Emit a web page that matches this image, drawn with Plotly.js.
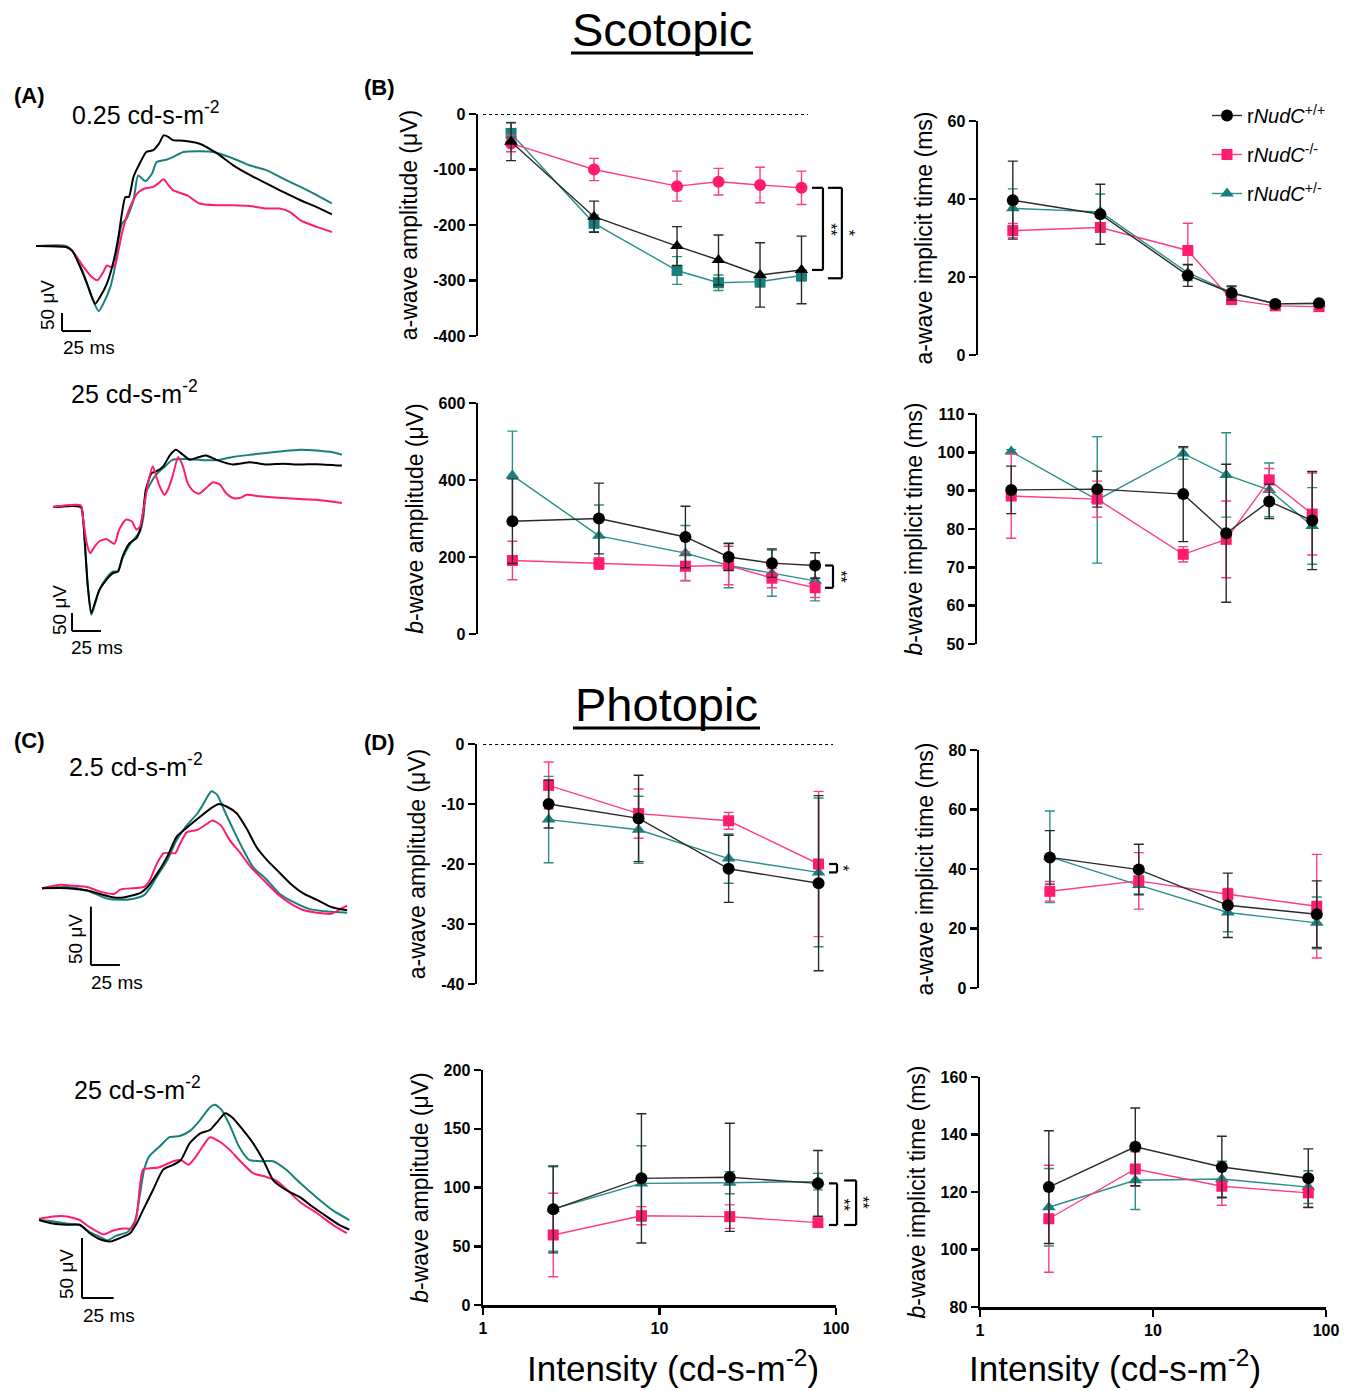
<!DOCTYPE html>
<html><head><meta charset="utf-8">
<script src="https://cdn.plot.ly/plotly-3.0.1.min.js"></script>
<style>html,body{margin:0;padding:0;background:#fff}</style>
</head><body><div id="chart" style="width:1354px;height:1391px"></div>
<script>
// ---------------- DATA ----------------
const scotIntensity = [0.025, 0.25, 2.5, 7.9, 25, 79];
const photIntensity = [2.5, 7.9, 25, 79];
const seriesNames = {wt:'r<i>NudC</i><sup>+/+</sup>', ko:'r<i>NudC</i><sup>-/-</sup>', het:'r<i>NudC</i><sup>+/-</sup>'};

// Scotopic a-wave amplitude (µV)
const scotAAmpWT = [-50, -185, -238, -263, -290, -281];
const scotAAmpWTErr = [34, 28, 35, 45, 58, 61];
const scotAAmpKO = [-53, -100, -130, -122, -128, -133];
const scotAAmpKOErr = [15, 20, 27, 24, 32, 30];
const scotAAmpHet = [-35, -197, -282, -304, -302, -291];
const scotAAmpHetErr = [20, 15, 25, 14, 10, 10];
// Scotopic a-wave implicit time (ms)
const scotATimeWT = [39.7, 36.1, 20.4, 15.9, 13.1, 13.3];
const scotATimeWTErr = [10, 7.7, 2.8, 1.8, 0.6, 0.5];
const scotATimeKO = [31.9, 32.7, 26.8, 14.2, 12.6, 12.4];
const scotATimeKOErr = [1.8, 1, 7, 1, 0.4, 0.4];
const scotATimeHet = [37.6, 36.7, 21.1, 16, 13.1, 13.1];
const scotATimeHetErr = [5, 4.6, 2, 1.5, 0.5, 0.5];
// Scotopic b-wave amplitude (µV)
const scotBAmpWT = [293, 300, 252, 200, 184, 178];
const scotBAmpWTErr = [110, 92, 80, 35, 37, 33];
const scotBAmpKO = [191, 183, 176, 178, 145, 120];
const scotBAmpKOErr = [50, 15, 37, 50, 25, 25];
const scotBAmpHet = [412, 255, 210, 178, 158, 138];
const scotBAmpHetErr = [115, 80, 72, 58, 60, 52];
// Scotopic b-wave implicit time (ms)
const scotBTimeWT = [90.2, 90.4, 89.1, 78.9, 87.2, 82.2];
const scotBTimeWTErr = [6.2, 4.7, 12.4, 18, 4.5, 12.8];
const scotBTimeKO = [88.6, 87.8, 73.4, 77.3, 92.8, 83.9];
const scotBTimeKOErr = [11, 4.7, 2, 10, 3, 10.7];
const scotBTimeHet = [100.2, 87.6, 99.7, 94.1, 90.2, 80.8];
const scotBTimeHetErr = [0.5, 16.5, 1.5, 11, 7, 10];
// Photopic a-wave amplitude (µV)
const photAAmpWT = [-10, -12.4, -20.8, -23.2];
const photAAmpWTErr = [4, 7.2, 5.6, 14.6];
const photAAmpKO = [-6.9, -11.6, -12.8, -20];
const photAAmpKOErr = [3.9, 4.1, 1.4, 12.1];
const photAAmpHet = [-12.6, -14.3, -19.1, -21.4];
const photAAmpHetErr = [7.2, 5.6, 4.1, 12.4];
// Photopic a-wave implicit time (ms)
const photATimeWT = [43.9, 39.8, 27.8, 24.8];
const photATimeWTErr = [9, 8.5, 10.8, 11.2];
const photATimeKO = [32.5, 36, 31.5, 27.5];
const photATimeKOErr = [3.3, 9.5, 2, 17.4];
const photATimeHet = [44.1, 34.6, 25.4, 21.9];
const photATimeHetErr = [15.4, 3, 6.5, 8.7];
// Photopic b-wave amplitude (µV)
const photBAmpWT = [81.4, 107.8, 108.7, 103.5];
const photBAmpWTErr = [37, 55, 46, 28];
const photBAmpKO = [59.6, 76, 75.2, 70.1];
const photBAmpKOErr = [35.5, 7.7, 10, 3];
const photBAmpHet = [81.7, 103.5, 104.1, 105];
const photBAmpHetErr = [36, 32, 9.4, 7];
// Photopic b-wave implicit time (ms)
const photBTimeWT = [121.7, 135.7, 128.7, 124.8];
const photBTimeWTErr = [19.6, 13.5, 10.7, 10.2];
const photBTimeKO = [110.7, 128, 122, 119.7];
const photBTimeKOErr = [18.6, 6, 6.6, 5];
const photBTimeHet = [114.7, 124.1, 124.5, 121.7];
const photBTimeHetErr = [13.5, 10.2, 6.2, 5.7];

// Tick labels
const ticksScotAAmp = [0, -100, -200, -300, -400];
const ticksScotATime = [0, 20, 40, 60];
const ticksScotBAmp = [0, 200, 400, 600];
const ticksScotBTime = [50, 60, 70, 80, 90, 100, 110];
const ticksPhotAAmp = [0, -10, -20, -30, -40];
const ticksPhotATime = [0, 20, 40, 60, 80];
const ticksPhotBAmp = [0, 50, 100, 150, 200];
const ticksPhotBTime = [80, 100, 120, 140, 160];
const ticksIntensity = [1, 10, 100];

// Waveforms: time (ms) / voltage (µV)
// Scotopic 0.25 cd-s-m-2
const wfS1tWT = [0,26,31,38,44,51,55,61,67,71,74,77,80,84,90,95,101,106,110,114,118,127,141,156,170,185,199,213,228,242,255];
const wfS1vWT = [0,-3,-12,-58,-105,-160,-142,-105,-40,25,90,136,136,192,233,261,266,284,307,303,294,292,284,257,224,196,173,150,127,108,88];
const wfS1tKO = [0,26,32,41,48,53,58,61,64,68,71,74,77,81,87,93,101,105,110,114,118,130,141,156,170,184,199,210,219,228,242,255];
const wfS1vKO = [0,-3,-17,-58,-86,-95,-72,-54,-58,-54,-12,34,71,108,145,159,164,173,185,169,155,141,118,113,113,111,104,104,94,71,53,39];
const wfS1tHet = [0,26,32,41,48,54,58,64,68,71,74,78,84,88,93,95,100,104,113,118,127,141,153,170,184,199,213,228,242,255];
const wfS1vHet = [0,0,-17,-77,-142,-181,-160,-114,-58,16,62,76,127,196,182,181,201,233,240,247,261,263,261,243,224,210,187,164,141,118];
// Scotopic 25 cd-s-m-2
const wfS2tWT = [0,24,26,28,30,33,36,40,46,52,56,60,66,72,75,78,80,85,89,95,101,106,112,118,126,132,141,155,170,184,198,213,227,249];
const wfS2vWT = [0,0,-35,-127,-220,-294,-267,-230,-202,-183,-179,-137,-100,-86,-63,-7,48,94,99,113,145,159,145,131,139,143,131,118,124,118,120,118,119,115];
const wfS2tKO = [0,24,26,29,32,36,40,46,53,57,63,68,72,75,78,82,86,89,92,96,99,103,108,112,116,121,126,132,138,144,149,155,161,167,178,198,227,249];
const wfS2vKO = [0,4,-35,-100,-128,-109,-95,-89,-102,-63,-35,-40,-63,-54,-7,67,113,85,57,34,48,85,139,113,67,44,37,53,69,62,39,25,25,34,30,25,20,11];
const wfS2tHet = [0,24,26,28,30,33,36,40,46,52,56,60,66,72,75,78,80,85,89,95,103,115,126,141,155,170,184,198,213,227,241,249];
const wfS2vHet = [0,0,-35,-127,-220,-299,-271,-230,-197,-179,-179,-142,-105,-81,-68,-26,39,71,90,108,131,133,131,130,139,145,150,155,159,157,152,145];
// Photopic 2.5 cd-s-m-2
const wfP1tWT = [0,22,39,50,62,70,85,91,99,108,116,125,136,145,152,159,168,177,185,194,203,214,226,237,249,263];
const wfP1vWT = [-1,-1,-3,-6,-9,-9,-5,0,11,26,43,51,60,67,71,69,63,49,34,23,14,3,-6,-11,-17,-20];
const wfP1tKO = [0,16,27,39,50,62,68,79,88,93,99,105,111,115,119,125,134,142,147,154,162,171,180,191,203,214,226,237,249,257,263];
const wfP1vKO = [-1,2,1,0,-4,-6,-2,-1,0,6,20,29,29,29,37,47,49,54,57,53,40,29,17,6,-6,-14,-20,-22,-23,-19,-16];
const wfP1tHet = [0,22,39,56,68,79,88,93,99,108,116,125,134,139,146,151,157,165,174,182,194,205,217,231,246,263];
const wfP1vHet = [-1,0,-3,-10,-11,-10,-7,-1,9,23,40,53,63,71,82,79,66,49,31,17,6,-6,-13,-19,-21,-22];
// Photopic 25 cd-s-m-2
const wfP2tWT = [0,11,22,32,40,48,56,64,72,77,82,90,98,106,112,119,127,135,141,147,153,161,169,177,185,195,206,216,227,237,245];
const wfP2vWT = [0,-3,-4,-4,-11,-16,-18,-15,-11,-3,8,25,42,46,50,64,72,75,82,89,85,75,64,50,33,25,19,11,3,-4,-8];
const wfP2tKO = [0,11,22,32,40,51,58,66,73,77,82,87,95,106,112,118,124,129,135,143,151,158,169,179,187,195,206,219,232,243];
const wfP2vKO = [1,3,3,0,-6,-12,-9,-7,-7,3,42,43,44,49,50,46,53,61,69,65,58,50,39,36,33,26,15,6,-4,-11];
const wfP2tHet = [0,11,22,32,40,48,54,61,70,76,79,83,87,95,103,111,119,127,135,139,144,151,158,166,177,185,195,206,219,232,245];
const wfP2vHet = [0,-1,-3,-4,-10,-14,-17,-13,-10,0,17,42,53,61,69,70,74,83,94,96,92,78,61,50,49,49,42,31,19,8,0];

const scaleBarMs = 25, scaleBarUV = 50;

// ---------------- STYLE / LAYOUT ----------------
const W = 1354, H = 1391;
const fx = p => p / W;
const fy = p => 1 - p / H;
const FONT = 'Liberation Sans, Arial, sans-serif';
const COL = {wt:'#000000', ko:'#FF1B6E', het:'#18807C'};
const LINE = {wt:'#2a2a2a', ko:'#FF3C82', het:'#2A8E8A'};
const RANK = {wt:1, ko:2, het:3};

const traces = [];
function addSeries(xs, ys, es, key, sym, xa, ya, legend) {
  traces.push({
    type:'scatter', mode:'lines+markers', x:xs, y:ys, xaxis:xa, yaxis:ya,
    name:seriesNames[key], legendgroup:key, showlegend:!!legend, legendrank:RANK[key],
    line:{color:LINE[key], width:1.4},
    marker:{color:COL[key], size:(sym==='square'?11:12), symbol:sym},
    error_y:{type:'data', array:es, visible:true, color:LINE[key], thickness:1.4, width:5},
    cliponaxis:false, hoverinfo:'skip'
  });
}
// B top-left (scotopic a amp): WT triangle, KO circle, Het square
addSeries(scotIntensity, scotAAmpHet, scotAAmpHetErr, 'het', 'square', 'x', 'y');
addSeries(scotIntensity, scotAAmpKO, scotAAmpKOErr, 'ko', 'circle', 'x', 'y');
addSeries(scotIntensity, scotAAmpWT, scotAAmpWTErr, 'wt', 'triangle-up', 'x', 'y');
// B top-right
addSeries(scotIntensity, scotATimeHet, scotATimeHetErr, 'het', 'triangle-up', 'x2', 'y2', true);
addSeries(scotIntensity, scotATimeKO, scotATimeKOErr, 'ko', 'square', 'x2', 'y2', true);
addSeries(scotIntensity, scotATimeWT, scotATimeWTErr, 'wt', 'circle', 'x2', 'y2', true);
// B bottom-left
addSeries(scotIntensity, scotBAmpHet, scotBAmpHetErr, 'het', 'triangle-up', 'x3', 'y3');
addSeries(scotIntensity, scotBAmpKO, scotBAmpKOErr, 'ko', 'square', 'x3', 'y3');
addSeries(scotIntensity, scotBAmpWT, scotBAmpWTErr, 'wt', 'circle', 'x3', 'y3');
// B bottom-right
addSeries(scotIntensity, scotBTimeHet, scotBTimeHetErr, 'het', 'triangle-up', 'x4', 'y4');
addSeries(scotIntensity, scotBTimeKO, scotBTimeKOErr, 'ko', 'square', 'x4', 'y4');
addSeries(scotIntensity, scotBTimeWT, scotBTimeWTErr, 'wt', 'circle', 'x4', 'y4');
// D top-left
addSeries(photIntensity, photAAmpHet, photAAmpHetErr, 'het', 'triangle-up', 'x5', 'y5');
addSeries(photIntensity, photAAmpKO, photAAmpKOErr, 'ko', 'square', 'x5', 'y5');
addSeries(photIntensity, photAAmpWT, photAAmpWTErr, 'wt', 'circle', 'x5', 'y5');
// D top-right
addSeries(photIntensity, photATimeHet, photATimeHetErr, 'het', 'triangle-up', 'x6', 'y6');
addSeries(photIntensity, photATimeKO, photATimeKOErr, 'ko', 'square', 'x6', 'y6');
addSeries(photIntensity, photATimeWT, photATimeWTErr, 'wt', 'circle', 'x6', 'y6');
// D bottom-left
addSeries(photIntensity, photBAmpHet, photBAmpHetErr, 'het', 'triangle-up', 'x7', 'y7');
addSeries(photIntensity, photBAmpKO, photBAmpKOErr, 'ko', 'square', 'x7', 'y7');
addSeries(photIntensity, photBAmpWT, photBAmpWTErr, 'wt', 'circle', 'x7', 'y7');
// D bottom-right
addSeries(photIntensity, photBTimeHet, photBTimeHetErr, 'het', 'triangle-up', 'x8', 'y8');
addSeries(photIntensity, photBTimeKO, photBTimeKOErr, 'ko', 'square', 'x8', 'y8');
addSeries(photIntensity, photBTimeWT, photBTimeWTErr, 'wt', 'circle', 'x8', 'y8');

// Waveforms
function addWave(t, v, key, xa, ya) {
  traces.push({type:'scatter', mode:'lines', x:t, y:v, xaxis:xa, yaxis:ya, showlegend:false,
    line:{color:COL[key], width:2, shape:'spline', smoothing:0.6}, hoverinfo:'skip', cliponaxis:false});
}
addWave(wfS1tHet, wfS1vHet, 'het', 'x9', 'y9');
addWave(wfS1tKO, wfS1vKO, 'ko', 'x9', 'y9');
addWave(wfS1tWT, wfS1vWT, 'wt', 'x9', 'y9');
addWave(wfS2tHet, wfS2vHet, 'het', 'x10', 'y10');
addWave(wfS2tWT, wfS2vWT, 'wt', 'x10', 'y10');
addWave(wfS2tKO, wfS2vKO, 'ko', 'x10', 'y10');
addWave(wfP1tHet, wfP1vHet, 'het', 'x11', 'y11');
addWave(wfP1tKO, wfP1vKO, 'ko', 'x11', 'y11');
addWave(wfP1tWT, wfP1vWT, 'wt', 'x11', 'y11');
addWave(wfP2tHet, wfP2vHet, 'het', 'x12', 'y12');
addWave(wfP2tKO, wfP2vKO, 'ko', 'x12', 'y12');
addWave(wfP2tWT, wfP2vWT, 'wt', 'x12', 'y12');

const AX = {showline:true, linecolor:'#000', linewidth:2.5, ticks:'outside', ticklen:7, tickwidth:2.5,
  tickcolor:'#000', showgrid:false, zeroline:false, fixedrange:true,
  tickfont:{family:FONT, size:16, color:'#000'}};
const boldLabel = v => '<b>' + String(v) + '</b>';
function yAx(anchor, ybot, ytop, range, ticks, title) {
  return Object.assign({}, AX, {anchor, domain:[fy(ybot), fy(ytop)], range, tickmode:'array',
    tickvals:ticks, ticktext:ticks.map(boldLabel),
    title:{text:title, font:{family:FONT, size:23, color:'#000'}, standoff:9}});
}
function xHidden(anchor, xl, xr, range) {
  return {anchor, domain:[fx(xl), fx(xr)], type:'log', range, visible:false, fixedrange:true};
}
function xLog(anchor, xl, xr) {
  return Object.assign({}, AX, {anchor, domain:[fx(xl), fx(xr)], type:'log', range:[0,2],
    tickmode:'array', tickvals:ticksIntensity, ticktext:ticksIntensity.map(boldLabel)});
}
function wfAx(anchor, d, range) {
  return {anchor, domain:d, range, visible:false, fixedrange:true};
}

const layout = {
  width:W, height:H, autosize:false, margin:{l:0, r:0, t:0, b:0},
  paper_bgcolor:'#fff', plot_bgcolor:'rgba(0,0,0,0)',
  font:{family:FONT, color:'#000'},
  showlegend:true,
  legend:{x:fx(1207), y:fy(96), xanchor:'left', yanchor:'top', font:{family:FONT, size:20, color:'#000'},
    tracegroupgap:10, bgcolor:'rgba(0,0,0,0)', traceorder:'grouped', itemwidth:30},
  xaxis: xHidden('y', 478, 810, [-2, 2]),
  yaxis: yAx('x', 336, 114, [-400, 0], ticksScotAAmp, 'a-wave amplitude (μV)'),
  xaxis2: xHidden('y2', 978, 1328, [-2, 2]),
  yaxis2: yAx('x2', 355, 121, [0, 60], ticksScotATime, 'a-wave implicit time (ms)'),
  xaxis3: xHidden('y3', 478, 824, [-2, 2]),
  yaxis3: yAx('x3', 634, 403, [0, 600], ticksScotBAmp, '<i>b</i>-wave amplitude (μV)'),
  xaxis4: xHidden('y4', 977, 1321, [-2, 2]),
  yaxis4: yAx('x4', 644, 414, [50, 110], ticksScotBTime, '<i>b</i>-wave implicit time (ms)'),
  xaxis5: xHidden('y5', 477, 837, [0, 2]),
  yaxis5: yAx('x5', 984, 744, [-40, 0], ticksPhotAAmp, 'a-wave amplitude (μV)'),
  xaxis6: xHidden('y6', 979, 1335, [0, 2]),
  yaxis6: yAx('x6', 988, 750, [0, 80], ticksPhotATime, 'a-wave implicit time (ms)'),
  xaxis7: xLog('y7', 483, 836),
  yaxis7: yAx('x7', 1305, 1070, [0, 200], ticksPhotBAmp, '<i>b</i>-wave amplitude (μV)'),
  xaxis8: xLog('y8', 980, 1326),
  yaxis8: yAx('x8', 1307, 1077, [80, 160], ticksPhotBTime, '<i>b</i>-wave implicit time (ms)'),
  xaxis9: wfAx('y9', [fx(30), fx(340)], [-5.2, 262]),
  yaxis9: wfAx('x9', [fy(335), fy(130)], [-247, 322]),
  xaxis10: wfAx('y10', [fx(45), fx(345)], [-6.9, 251.7]),
  yaxis10: wfAx('x10', [fy(640), fy(440)], [-369, 186]),
  xaxis11: wfAx('y11', [fx(35), fx(350)], [-6, 265.5]),
  yaxis11: wfAx('x11', [fy(990), fy(780)], [-88.3, 91.7]),
  xaxis12: wfAx('y12', [fx(35), fx(355)], [-3.2, 249.5]),
  yaxis12: wfAx('x12', [fy(1320), fy(1090)], [-83.3, 108.3]),
  shapes:[], annotations:[]
};
const S = layout.shapes, A = layout.annotations;

function pline(x0, y0, x1, y1, w) {
  S.push({type:'line', xref:'paper', yref:'paper', x0:fx(x0), y0:fy(y0), x1:fx(x1), y1:fy(y1), line:{color:'#000', width:w||3}});
}
function text(x, y, t, size, opts) {
  A.push(Object.assign({xref:'paper', yref:'paper', x:fx(x), y:fy(y), text:t, showarrow:false,
    xanchor:'center', yanchor:'middle', font:{family:FONT, size, color:'#000'}}, opts||{}));
}
// Section titles
text(662, 29, 'Scotopic', 47); pline(571, 53, 753, 53, 3);
text(666, 704, 'Photopic', 47); pline(573, 728, 760, 728, 3);
// Panel letters
text(29, 96, '<b>(A)</b>', 22); text(380, 87, '<b>(B)</b>', 22);
text(29, 741, '<b>(C)</b>', 22); text(380, 742, '<b>(D)</b>', 22);
// Waveform intensity labels
text(146, 113, '0.25 cd-s-m<sup>-2</sup>', 25);
text(134, 392, '25 cd-s-m<sup>-2</sup>', 25);
text(136, 765, '2.5 cd-s-m<sup>-2</sup>', 25);
text(137, 1088, '25 cd-s-m<sup>-2</sup>', 25);
// x titles
text(673, 1366, 'Intensity (cd-s-m<sup>-2</sup>)', 35);
text(1115, 1366, 'Intensity (cd-s-m<sup>-2</sup>)', 35);

// Scale bars (data units of each waveform panel)
function scaleBar(xa, ya, t0, v0, lblV, lblT) {
  S.push({type:'line', xref:xa, yref:ya, x0:t0, y0:v0, x1:t0, y1:v0 + scaleBarUV, line:{color:'#000', width:2}});
  S.push({type:'line', xref:xa, yref:ya, x0:t0, y0:v0, x1:t0 + scaleBarMs, y1:v0, line:{color:'#000', width:2}});
  text(lblV[0], lblV[1], scaleBarUV + ' μV', 19, {textangle:-90});
  text(lblT[0], lblT[1], scaleBarMs + ' ms', 19);
}
scaleBar('x9', 'y9', 22.4, -236, [47, 305], [89, 348]);
scaleBar('x10', 'y10', 16.4, -344, [59, 610], [97, 647]);
scaleBar('x11', 'y11', 42.2, -66.9, [75, 939], [117, 982]);
scaleBar('x12', 'y12', 33.9, -65, [66, 1274], [109, 1315]);

// Dotted zero lines
S.push({type:'line', xref:'x domain', yref:'y', x0:0.015, x1:0.994, y0:0, y1:0, line:{color:'#000', width:2.2, dash:'dot'}});
S.push({type:'line', xref:'x5 domain', yref:'y5', x0:0.017, x1:0.989, y0:0, y1:0, line:{color:'#000', width:2.2, dash:'dot'}});

// Significance brackets
function bracket(xa, ya, xTick, xBar, y0, y1, stars, xStar) {
  const xr = xa + ' domain';
  const L = {color:'#000', width:2.2};
  S.push({type:'line', xref:xr, yref:ya, x0:xTick, x1:xBar, y0:y0, y1:y0, line:L});
  S.push({type:'line', xref:xr, yref:ya, x0:xBar, x1:xBar, y0:y0, y1:y1, line:L});
  S.push({type:'line', xref:xr, yref:ya, x0:xTick, x1:xBar, y0:y1, y1:y1, line:L});
  A.push({xref:xr, yref:ya, x:xStar, y:(y0 + y1) / 2, text:stars, showarrow:false, textangle:90,
    xanchor:'center', yanchor:'middle', font:{family:FONT, size:16, color:'#000'}});
}
bracket('x', 'y', 1.006, 1.039, scotAAmpKO[5], scotAAmpWT[5], '**', 1.062);
bracket('x', 'y', 1.054, 1.096, scotAAmpKO[5], scotAAmpHet[5] - 5, '*', 1.118);
bracket('x3', 'y3', 1.003, 1.026, scotBAmpWT[5], scotBAmpKO[5], '**', 1.047);
bracket('x5', 'y5', 0.978, 1.0, photAAmpKO[3], photAAmpHet[3], '*', 1.017);
bracket('x7', 'y7', 0.980, 1.003, photBAmpWT[3], photBAmpKO[3] - 2, '**', 1.022);
bracket('x7', 'y7', 1.023, 1.057, photBAmpHet[3] + 1, photBAmpKO[3] - 2, '**', 1.075);

Plotly.newPlot('chart', traces, layout, {staticPlot:true, displayModeBar:false});
</script></body></html>
